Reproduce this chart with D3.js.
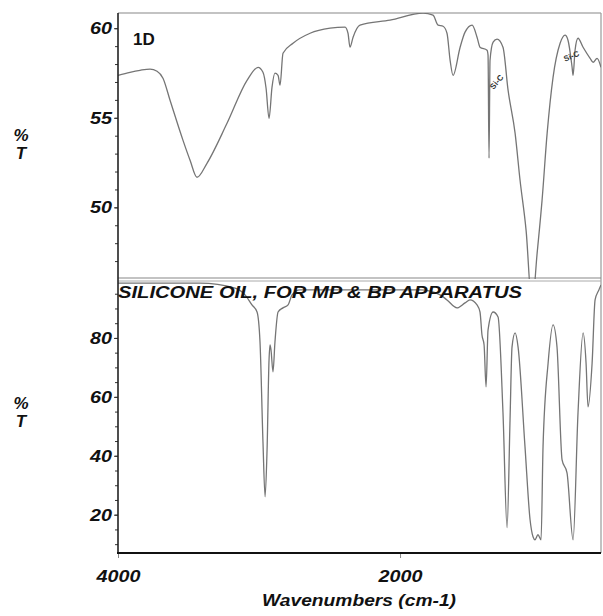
<!DOCTYPE html>
<html><head><meta charset="utf-8">
<script src="https://cdn.jsdelivr.net/npm/d3@7"></script>
<style>
body{margin:0;background:#fff}
text{font-family:"Liberation Sans",Arial,Helvetica,sans-serif;}
</style>
</head><body>
<svg id="c" width="603" height="616"></svg>
<script>
// ---- data ----
const topWavenumbers = [4000,3915,3844,3773,3723,3681,3631,3539,3489,3440,3369,3227,3085,3007,2972,2950,2929,2908,2887,2865,2851,2830,2759,2638,2496,2390,2369,2355,2333,2284,2071,1837,1766,1730,1695,1667,1645,1624,1574,1539,1489,1454,1433,1383,1376,1369,1362,1340,1312,1270,1234,1184,1149,1106,1064,1028,993,957,915,865,830,809,780,773,759,738,702,652,631,603,575];
const topTransmittance = [57.37,57.54,57.65,57.72,57.6,57.21,55.98,53.74,52.63,51.68,52.46,54.69,57.09,57.82,57.54,56.65,54.97,56.70,57.49,57.37,56.82,58.60,59.16,59.72,60.00,60.06,59.72,58.94,59.50,60.17,60.45,60.84,60.73,60.17,60.11,59.72,58.21,57.37,58.94,59.78,60.17,59.50,58.94,58.77,58.50,52.74,58.20,59.22,59.39,58.94,56.54,54.13,51.51,48.70,44.5,47.43,50.39,54.13,57.26,59.16,59.61,59.33,57.82,57.37,58.77,59.44,58.94,58.32,58.10,58.32,57.82];
const botWavenumbers = [4000,3418,3170,3099,3050,3014,2993,2972,2957,2943,2929,2922,2915,2901,2887,2865,2830,2794,2766,2709,2355,1858,1716,1667,1596,1539,1504,1454,1433,1419,1404,1390,1376,1340,1305,1270,1241,1220,1206,1184,1163,1114,1078,1057,1043,1022,1000,986,950,915,887,851,816,773,738,702,681,667,638,617,590,575];
const botTransmittance = [98.6,98.6,96.9,94.6,91.2,88.8,78.6,44.7,26.1,42.0,72.5,77.6,75.9,68.5,78.6,88.8,90.2,91.2,94.6,96.3,96.3,96.3,94.6,92.9,90.2,91.9,92.9,91.2,88.8,81.0,77.6,63.4,82.7,88.8,87.1,54.6,15.6,52.2,76.9,81.7,76.9,43.1,18.3,12.5,11.5,13.2,11.5,43.1,71.5,84.4,76.9,38.6,34.2,11.5,54.6,81.7,71.5,56.6,71.5,92.9,96.3,98.0];
const topTicks = [50,55,60];
const botTicks = [20,40,60,80];
const xTicks = [4000,2000];
const topLabel = "1D";
const botLabel = "SILICONE OIL, FOR MP & BP APPARATUS";
const annotations = [{wn:1300,v:56.9,text:"Si-C",rot:-50},{wn:778,v:58.3,text:"Si-C",rot:-22}];

// ---- layout ----
const svg = d3.select("#c");
const L = 118, R = 601, T = 13, MID = 279, B = 553;
const x = d3.scaleLinear().domain([4000,575]).range([L,R]);
const yTop = d3.scaleLinear().domain([46,60.85]).range([MID,T]);
const yBot = d3.scaleLinear().domain([7,100]).range([B,MID]);

const defs = svg.append("defs");
defs.append("clipPath").attr("id","clipTop").append("rect").attr("x",L).attr("y",T).attr("width",R-L).attr("height",MID-T);
defs.append("clipPath").attr("id","clipBot").append("rect").attr("x",L).attr("y",MID).attr("width",R-L).attr("height",B-MID);

// frame lines
svg.append("line").attr("x1",L).attr("x2",R).attr("y1",T).attr("y2",T).attr("stroke","#888").attr("stroke-width",1.2);
svg.append("line").attr("x1",R).attr("x2",R).attr("y1",T).attr("y2",B).attr("stroke","#999").attr("stroke-width",1.2);
svg.append("line").attr("x1",L).attr("x2",R).attr("y1",MID-1).attr("y2",MID-1).attr("stroke","#888").attr("stroke-width",1.2);
svg.append("line").attr("x1",L).attr("x2",R).attr("y1",MID+2).attr("y2",MID+2).attr("stroke","#aaa").attr("stroke-width",1);

// curves
const lineTop = d3.line().x((d,i)=>x(topWavenumbers[i])).y(d=>yTop(d)).curve(d3.curveMonotoneX);
const lineBot = d3.line().x((d,i)=>x(botWavenumbers[i])).y(d=>yBot(d)).curve(d3.curveMonotoneX);
svg.append("path").datum(topTransmittance).attr("d",lineTop).attr("clip-path","url(#clipTop)")
  .attr("fill","none").attr("stroke","#757575").attr("stroke-width",1.3);
svg.append("path").datum(botTransmittance).attr("d",lineBot).attr("clip-path","url(#clipBot)")
  .attr("fill","none").attr("stroke","#757575").attr("stroke-width",1.3);

// axes
const tickFont = g => g.selectAll("text").attr("font-size",17).attr("font-weight","bold").attr("font-style","italic")
  .attr("fill","#111").attr("font-family","'Liberation Sans',Arial,sans-serif")
  .attr("textLength",function(){return this.textContent.length*11;}).attr("lengthAdjust","spacingAndGlyphs");
const gTopMinor = svg.append("g").attr("transform",`translate(${L},0)`)
  .call(d3.axisLeft(yTop).tickValues(d3.range(47,61,1)).tickSize(3).tickFormat(""));
const gTop = svg.append("g").attr("transform",`translate(${L},0)`)
  .call(d3.axisLeft(yTop).tickValues(topTicks).tickSize(4).tickPadding(2)).call(tickFont);
const gBotMinor = svg.append("g").attr("transform",`translate(${L},0)`)
  .call(d3.axisLeft(yBot).tickValues(d3.range(10,100,5)).tickSize(3).tickFormat(""));
const gBot = svg.append("g").attr("transform",`translate(${L},0)`)
  .call(d3.axisLeft(yBot).tickValues(botTicks).tickSize(4).tickPadding(2)).call(tickFont);
const gX = svg.append("g").attr("transform",`translate(0,${B})`)
  .call(d3.axisBottom(x).tickValues(xTicks).tickFormat(d3.format("d")).tickSize(5).tickPadding(12)).call(tickFont);
[gTopMinor,gTop,gBotMinor,gBot,gX].forEach(g=>{
  g.selectAll(".domain").remove();
  g.selectAll("line").attr("stroke","#333").attr("stroke-width",1);
});
gX.selectAll(".tick line").attr("stroke","#888");
// axis lines
svg.append("line").attr("x1",L).attr("x2",L).attr("y1",T).attr("y2",B).attr("stroke","#222").attr("stroke-width",1.6);
svg.append("line").attr("x1",L-1).attr("x2",R).attr("y1",B).attr("y2",B).attr("stroke","#111").attr("stroke-width",2.2);

// panel labels
svg.append("text").attr("x",133).attr("y",45).attr("font-size",17).attr("font-weight","bold").attr("fill","#111").text(topLabel);
svg.append("text").attr("x",118).attr("y",298).attr("font-size",16).attr("font-weight","bold").attr("font-style","italic")
  .attr("fill","#111").attr("textLength",404).attr("lengthAdjust","spacingAndGlyphs").text(botLabel);

// y labels
function yLab(cy){
  svg.append("text").attr("x",21).attr("y",cy).attr("text-anchor","middle").attr("font-size",17).attr("font-weight","bold").attr("font-style","italic").attr("fill","#111").text("%");
  svg.append("text").attr("x",21).attr("y",cy+18).attr("text-anchor","middle").attr("font-size",17).attr("font-weight","bold").attr("font-style","italic").attr("fill","#111").text("T");
}
yLab(141); yLab(409);

// x label
svg.append("text").attr("x",359).attr("y",606).attr("text-anchor","middle").attr("font-size",17).attr("font-weight","bold").attr("font-style","italic")
  .attr("fill","#111").attr("textLength",194).attr("lengthAdjust","spacingAndGlyphs").text("Wavenumbers (cm-1)");

// annotations
annotations.forEach(a=>{
  svg.append("text").attr("transform",`translate(${x(a.wn)},${yTop(a.v)}) rotate(${a.rot})`)
    .attr("text-anchor","middle").attr("font-size",8).attr("font-weight","bold").attr("fill","#333").text(a.text);
});
</script>
</body></html>
